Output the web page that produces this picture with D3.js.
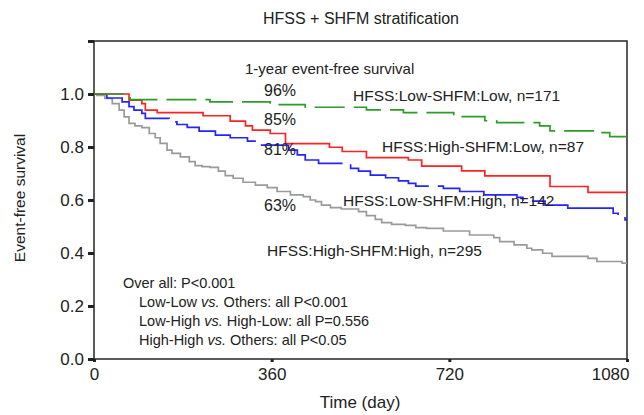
<!DOCTYPE html>
<html>
<head>
<meta charset="utf-8">
<script src="https://cdn.jsdelivr.net/npm/d3@7"></script>
<style>
  html, body { margin: 0; padding: 0; background: #fff; }
  svg { display: block; }
  text { font-family: "Liberation Sans", Arial, Helvetica, sans-serif; fill: #222; }
</style>
</head>
<body>
<svg id="chart" width="644" height="415"></svg>
<script>
// ---- Data (Kaplan-Meier steps: day, survival) ----
const lowLowDays  = [0, 73, 235, 357, 428, 552, 627, 729, 792, 816, 903, 924, 1019, 1045, 1080];
const lowLowSurv  = [1.0, 0.979, 0.970, 0.960, 0.950, 0.940, 0.930, 0.915, 0.899, 0.892, 0.880, 0.861, 0.854, 0.839, 0.839];

const highLowDays = [0, 71, 97, 104, 128, 221, 276, 307, 321, 357, 388, 477, 503, 552, 637, 664, 745, 792, 924, 1001, 1080];
const highLowSurv = [1.0, 0.977, 0.964, 0.939, 0.930, 0.918, 0.898, 0.880, 0.864, 0.851, 0.813, 0.799, 0.783, 0.760, 0.751, 0.728, 0.710, 0.691, 0.651, 0.629, 0.629];

const lowHighDays = [0, 26, 57, 71, 81, 97, 104, 152, 168, 189, 213, 246, 276, 311, 333, 394, 412, 428, 455, 520, 536, 560, 591, 617, 637, 652, 708, 741, 790, 857, 869, 914, 960, 1052, 1062, 1076, 1080];
const lowHighSurv = [1.0, 0.985, 0.970, 0.952, 0.939, 0.927, 0.908, 0.895, 0.885, 0.874, 0.860, 0.845, 0.835, 0.822, 0.807, 0.788, 0.770, 0.751, 0.738, 0.719, 0.709, 0.694, 0.684, 0.672, 0.663, 0.652, 0.644, 0.632, 0.619, 0.610, 0.596, 0.581, 0.569, 0.550, 0.537, 0.525, 0.525];

const highHighDays = [0, 6, 22, 37, 51, 61, 71, 83, 97, 112, 124, 134, 148, 158, 175, 193, 205, 219, 235, 252, 266, 282, 302, 327, 351, 371, 398, 424, 438, 449, 461, 479, 501, 536, 552, 570, 583, 603, 631, 652, 674, 708, 761, 810, 822, 851, 877, 887, 909, 928, 1001, 1019, 1070, 1080];
const highHighSurv = [1.0, 0.995, 0.983, 0.964, 0.939, 0.914, 0.889, 0.880, 0.873, 0.851, 0.835, 0.814, 0.788, 0.776, 0.763, 0.745, 0.730, 0.726, 0.723, 0.709, 0.692, 0.682, 0.667, 0.656, 0.647, 0.632, 0.619, 0.613, 0.600, 0.594, 0.581, 0.571, 0.566, 0.556, 0.541, 0.527, 0.515, 0.508, 0.504, 0.496, 0.493, 0.483, 0.468, 0.458, 0.443, 0.431, 0.418, 0.412, 0.399, 0.387, 0.380, 0.368, 0.362, 0.362];

const seriesNames = ["HFSS:Low-SHFM:Low, n=171", "HFSS:High-SHFM:Low, n=87", "HFSS:Low-SHFM:High, n=142", "HFSS:High-SHFM:High, n=295"];
const oneYearLabels = ["96%", "85%", "81%", "63%"];
const xTicks = [0, 360, 720, 1080];
const yTicks = [0, 0.2, 0.4, 0.6, 0.8, 1.0, 1.2];
const yTickLabels = ["0.0", "0.2", "0.4", "0.6", "0.8", "1.0", ""];
const pValueLines = [
  ["Over all: P<0.001"],
  ["Low-Low ", "vs.", " Others: all P<0.001"],
  ["Low-High ", "vs.", " High-Low: all P=0.556"],
  ["High-High ", "vs.", " Others: all P<0.05"]
];

// ---- Layout ----
const svg = d3.select("#chart");
const margin = {left: 94, right: 17, top: 41, bottom: 56};
const W = 644, H = 415;
const x = d3.scaleLinear().domain([0, 1080]).range([margin.left, W - margin.right]);
const y = d3.scaleLinear().domain([0, 1.2]).range([H - margin.bottom, margin.top]);

const series = [
  {days: lowLowDays, surv: lowLowSurv, color: "#2f9a2a", dash: "30,9"},
  {days: highLowDays, surv: highLowSurv, color: "#ff2222", dash: null},
  {days: lowHighDays, surv: lowHighSurv, color: "#2424ff", dash: "100,9"},
  {days: highHighDays, surv: highHighSurv, color: "#9a9a9a", dash: null}
];

// Frame
svg.append("rect")
  .attr("x", x(0)).attr("y", y(1.2))
  .attr("width", x(1080) - x(0)).attr("height", y(0) - y(1.2))
  .attr("fill", "none").attr("stroke", "#333").attr("stroke-width", 1.6);

// Curves
const line = d3.line().curve(d3.curveStepAfter).x(d => x(d[0])).y(d => y(d[1]));
series.slice().reverse().forEach(s => {
  const pts = s.days.map((d, i) => [d, s.surv[i]]);
  svg.append("path")
    .attr("d", line(pts))
    .attr("fill", "none")
    .attr("stroke", s.color)
    .attr("stroke-width", 1.7)
    .attr("stroke-dasharray", s.dash);
});

// Y axis
const yAxis = d3.axisLeft(y).tickValues(yTicks).tickSize(6).tickPadding(4)
  .tickFormat((d, i) => yTickLabels[i]);
const gy = svg.append("g").attr("transform", `translate(${x(0)},0)`).call(yAxis);
gy.select(".domain").remove();
gy.selectAll(".tick line").attr("stroke", "#222").attr("stroke-width", 3);
gy.selectAll(".tick text").style("font-size", "17px").attr("fill", "#222")
  .style("font-family", "'Liberation Sans', Arial, sans-serif");

// X axis
const xAxis = d3.axisBottom(x).tickValues(xTicks).tickSize(3).tickPadding(6)
  .tickFormat(d3.format("d"));
const gx = svg.append("g").attr("transform", `translate(0,${y(0)})`).call(xAxis);
gx.select(".domain").remove();
gx.selectAll(".tick line").attr("stroke", "#222").attr("stroke-width", 3);
gx.selectAll(".tick text").style("font-size", "17px").attr("fill", "#222")
  .style("font-family", "'Liberation Sans', Arial, sans-serif")
  .attr("text-anchor", d => d === 1080 ? "end" : "middle")
  .attr("dx", d => d === 1080 ? 2 : 0);

// Titles
svg.append("text").attr("x", 361).attr("y", 24).attr("text-anchor", "middle")
  .style("font-size", "16px").text("HFSS + SHFM stratification");
svg.append("text").attr("x", 360).attr("y", 408).attr("text-anchor", "middle")
  .style("font-size", "17px").text("Time (day)");
svg.append("text").attr("transform", "translate(25,198) rotate(-90)")
  .attr("text-anchor", "middle").style("font-size", "15.5px").text("Event-free survival");

// Annotations
svg.append("text").attr("x", 245).attr("y", 74).style("font-size", "15px")
  .text("1-year event-free survival");
const pctY = [96, 125, 155, 211];
oneYearLabels.forEach((t, i) => {
  svg.append("text").attr("x", 264).attr("y", pctY[i]).style("font-size", "16px").text(t);
});
const nameX = [353, 382, 343, 267];
const nameY = [101, 152, 206, 256];
seriesNames.forEach((t, i) => {
  svg.append("text").attr("x", nameX[i]).attr("y", nameY[i]).style("font-size", "15.5px").text(t);
});

const pX = [123, 139, 139, 139];
const pY = [288, 307, 326, 345];
pValueLines.forEach((parts, i) => {
  const t = svg.append("text").attr("x", pX[i]).attr("y", pY[i]).style("font-size", "14.5px");
  parts.forEach(p => {
    t.append("tspan").style("font-style", p === "vs." ? "italic" : "normal").text(p);
  });
});
</script>
</body>
</html>
